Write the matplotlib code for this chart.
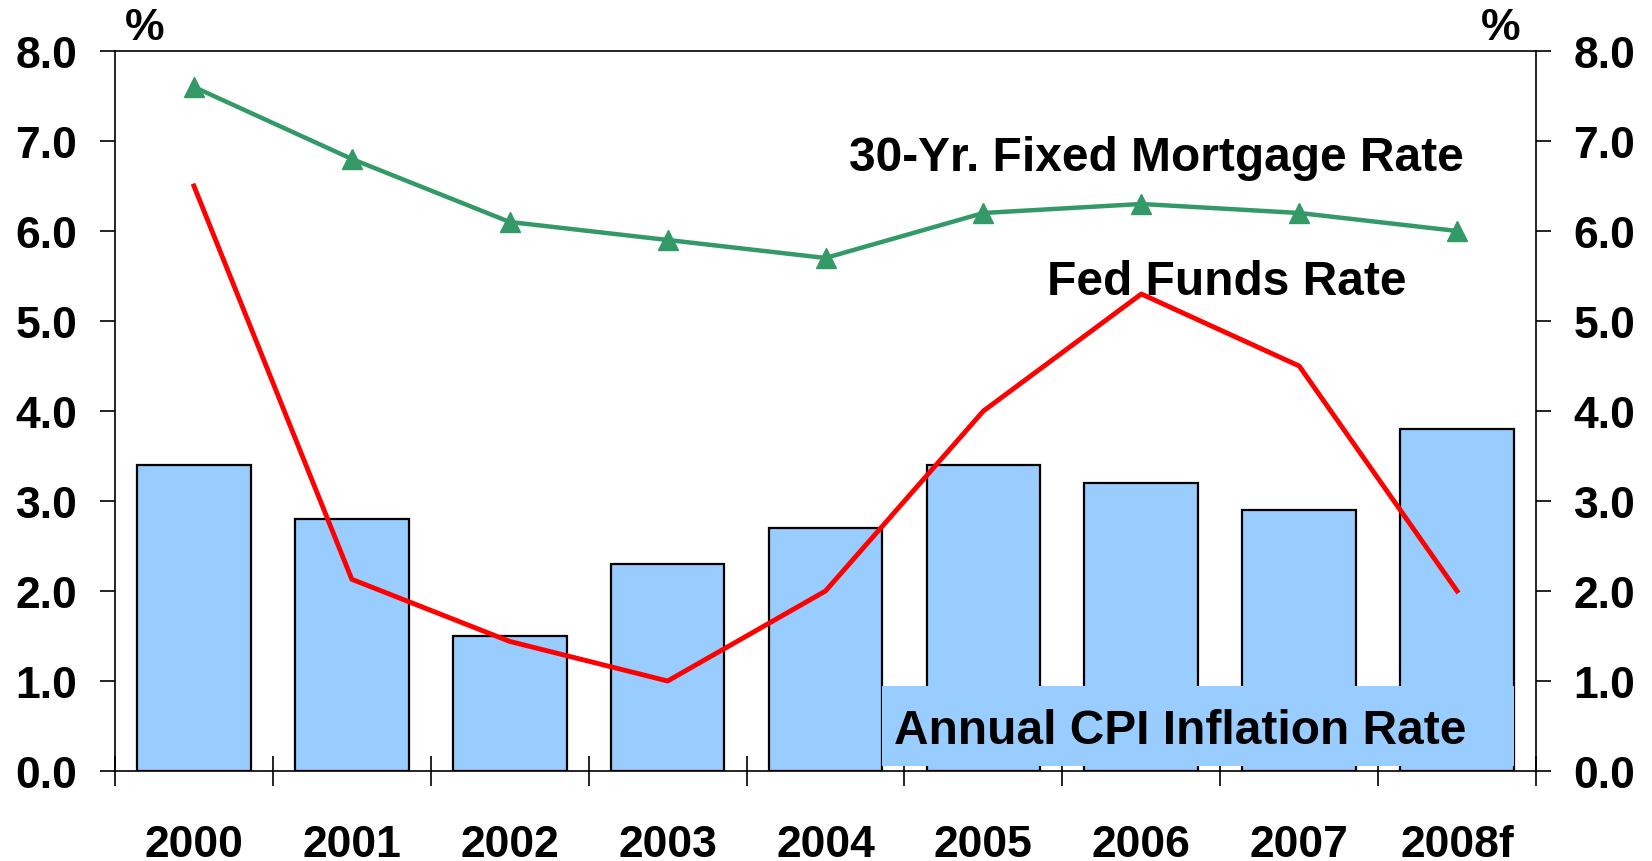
import numpy as np
import matplotlib
matplotlib.use('Agg')
import matplotlib.pyplot as plt
from matplotlib.patches import Rectangle

years = ['2000', '2001', '2002', '2003', '2004', '2005', '2006', '2007', '2008f']
cpi = [3.4, 2.8, 1.5, 2.3, 2.7, 3.4, 3.2, 2.9, 3.8]
fed_funds = [6.5, 2.13, 1.44, 1.0, 2.0, 4.0, 5.3, 4.5, 2.0]
mortgage = [7.6, 6.8, 6.1, 5.9, 5.7, 6.2, 6.3, 6.2, 6.0]
yticks = [0, 1, 2, 3, 4, 5, 6, 7, 8]

plt.rcParams['font.family'] = ['Liberation Sans', 'DejaVu Sans']
plt.rcParams['font.weight'] = 'bold'

bar_col = '#99CCFF'
red = '#FF0000'
green = '#339966'

fig = plt.figure(figsize=(16.52, 8.62), dpi=100)
ax = fig.add_axes([0.0696, 0.1044, 0.8602, 0.8353])

x = np.arange(len(years))
ax.bar(x, cpi, width=0.72, color=bar_col, edgecolor='black', linewidth=1.6, zorder=2)
ax.plot(x, fed_funds, color=red, linewidth=3.5, zorder=4)
ax.plot(x, mortgage, color=green, linewidth=3.2, marker='^', markersize=15, zorder=4)

# label box for CPI
ax.add_patch(Rectangle((4.36, 0.06), 4.0, 0.88, facecolor=bar_col, edgecolor='none', zorder=3))
ax.text(8.06, 0.45, 'Annual CPI Inflation Rate', fontsize=34.5, fontweight='bold',
        ha='right', va='center', zorder=5)
ax.text(8.04, 6.82, '30-Yr. Fixed Mortgage Rate', fontsize=34.5, fontweight='bold',
        ha='right', va='center', zorder=5)
ax.text(7.68, 5.44, 'Fed Funds Rate', fontsize=34.5, fontweight='bold',
        ha='right', va='center', zorder=5)

ax.set_xlim(-0.5, len(years) - 0.5)
ax.set_ylim(0, 8)

ax.set_yticks(yticks)
ax.set_yticklabels(['%.1f' % v for v in yticks])
ax.tick_params(axis='y', direction='out', length=11, width=1.2, labelsize=32,
               left=True, right=True, labelleft=True, labelright=True, pad=16)

# boundaries as major ticks, year labels on minor ticks
ax.set_xticks(np.arange(len(years) + 1) - 0.5)
ax.set_xticklabels([])
ax.set_xticks(x, minor=True)
ax.set_xticklabels(years, minor=True)
ax.tick_params(axis='x', which='major', direction='inout', length=22, width=1.2)
ax.tick_params(axis='x', which='minor', length=0, labelsize=32, pad=38)

for s in ax.spines.values():
    s.set_linewidth(1.2)

ax.text(0.021, 1.033, '%', transform=ax.transAxes, fontsize=32, fontweight='bold',
        ha='center', va='center')
ax.text(0.975, 1.033, '%', transform=ax.transAxes, fontsize=32, fontweight='bold',
        ha='center', va='center')

plt.savefig('out.png', dpi=100)
